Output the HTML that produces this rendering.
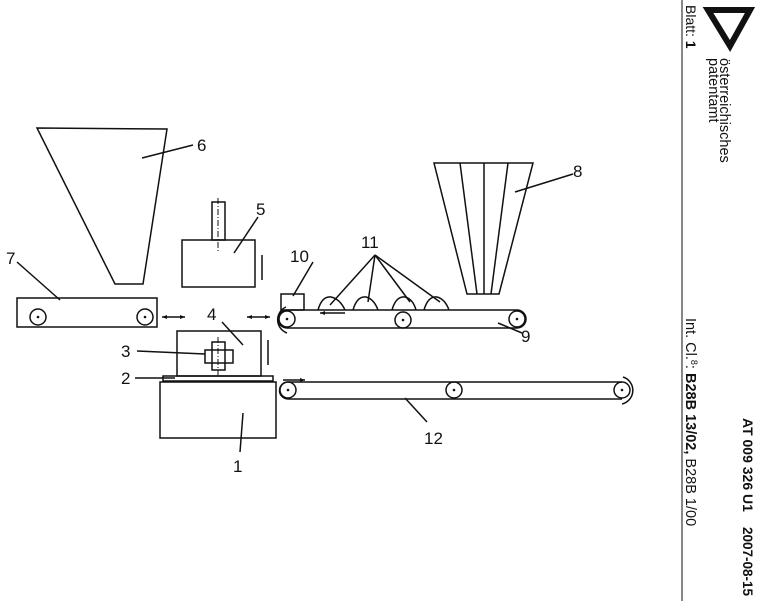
<!DOCTYPE html>
<html><head><meta charset="utf-8"><style>html,body{margin:0;padding:0;background:#fff}svg{display:block}</style></head><body>
<svg width="757" height="601" viewBox="0 0 757 601" xmlns="http://www.w3.org/2000/svg" font-family="Liberation Sans, sans-serif">
<g fill="none" stroke="#111" stroke-width="1.5">
<polygon points="37,128 167,129 143,284 115,284"/>
<line x1="142" y1="158" x2="193" y2="145"/>
<rect x="17" y="298" width="140" height="29"/>
<circle cx="38" cy="317" r="8"/><circle cx="145" cy="317" r="8"/>
<line x1="17" y1="262" x2="60" y2="300"/>
<line x1="162" y1="317" x2="185" y2="317"/><line x1="247" y1="317" x2="270" y2="317"/>
<rect x="182" y="240" width="73" height="47"/>
<rect x="212" y="202" width="13" height="38"/>
<line x1="218" y1="198" x2="218" y2="252" stroke-dasharray="6,2,1,2" stroke-width="1"/>
<line x1="234" y1="253" x2="258" y2="217"/>
<line x1="262" y1="255" x2="262" y2="280"/>
<rect x="177" y="331" width="84" height="45"/>
<line x1="222" y1="322" x2="243" y2="345"/>
<rect x="205" y="350" width="28" height="13"/>
<rect x="212" y="342" width="13" height="28"/>
<line x1="218" y1="337" x2="218" y2="375" stroke-dasharray="6,2,1,2" stroke-width="1"/>
<line x1="137" y1="351" x2="205" y2="354"/>
<line x1="268" y1="340" x2="268" y2="365"/>
<rect x="163" y="376" width="110" height="5"/>
<line x1="135" y1="378" x2="175" y2="378"/>
<rect x="160" y="382" width="116" height="56"/>
<line x1="243" y1="413" x2="240" y2="452"/>
<line x1="287" y1="310" x2="517" y2="310"/><line x1="287" y1="328" x2="517" y2="328"/>
<circle cx="287" cy="319" r="8"/><circle cx="403" cy="320" r="8"/><circle cx="517" cy="319" r="8"/>
<path d="M287,310 A9,9 0 0 0 287,328"/><path d="M517,310 A9,9 0 0 1 517,328"/>
<path d="M286,307 A14,14 0 0 0 287,333"/>
<line x1="320" y1="313" x2="345" y2="313"/>
<line x1="498" y1="323" x2="522" y2="333"/>
<rect x="281" y="294" width="23" height="16"/>
<line x1="313" y1="262" x2="293" y2="296"/>
<path d="M318,310 Q322,296 331,297 Q340,299 345,310"/>
<path d="M353,310 Q357,296 366,297 Q374,299 378,310"/>
<path d="M392,310 Q396,296 405,297 Q413,299 416,310"/>
<path d="M424,310 Q428,296 437,297 Q445,299 449,310"/>
<line x1="375" y1="255" x2="330" y2="305"/><line x1="375" y1="255" x2="368" y2="302"/>
<line x1="375" y1="255" x2="410" y2="302"/><line x1="375" y1="255" x2="440" y2="302"/>
<polygon points="434,163 533,163 499,294 467,294"/>
<line x1="460" y1="163" x2="477" y2="294"/><line x1="484" y1="163" x2="484" y2="294"/><line x1="508" y1="163" x2="491" y2="294"/>
<line x1="515" y1="192" x2="573" y2="174"/>
<line x1="288" y1="382" x2="622" y2="382"/><line x1="288" y1="399" x2="622" y2="399"/>
<circle cx="288" cy="390" r="8"/><circle cx="454" cy="390" r="8"/><circle cx="622" cy="390" r="8"/>
<path d="M288,382 A8.5,8.5 0 0 0 288,399"/>
<path d="M623,377 A14,14 0 0 1 622,404"/>
<line x1="283" y1="380" x2="305" y2="380"/>
<line x1="405" y1="398" x2="427" y2="422"/>
<line x1="682" y1="0" x2="682" y2="601" stroke-width="1"/>
<polygon points="708,10 750,10 730,46" stroke-width="6" stroke-linejoin="miter"/>
</g>
<g fill="#111">
<circle cx="38" cy="317" r="1.3"/><circle cx="145" cy="317" r="1.3"/>
<circle cx="287" cy="319" r="1.3"/><circle cx="403" cy="320" r="1.3"/><circle cx="517" cy="319" r="1.3"/>
<circle cx="288" cy="390" r="1.3"/><circle cx="454" cy="390" r="1.3"/><circle cx="622" cy="390" r="1.3"/>
<polygon points="162,317 167,315 167,319"/><polygon points="185,317 180,315 180,319"/>
<polygon points="247,317 252,315 252,319"/><polygon points="270,317 265,315 265,319"/>
<polygon points="320,313 325,311 325,315"/><polygon points="305,380 300,378 300,382"/>
<g font-size="17">
<text x="197" y="151">6</text><text x="6" y="264">7</text><text x="256" y="215">5</text>
<text x="207" y="320">4</text><text x="121" y="357">3</text><text x="121" y="384">2</text>
<text x="233" y="472">1</text><text x="521" y="342">9</text><text x="290" y="262">10</text>
<text x="361" y="248">11</text><text x="573" y="177">8</text><text x="424" y="444">12</text>
</g>
<g font-size="14.5">
<text transform="translate(720,58) rotate(90)">österreichisches</text>
<text transform="translate(709,58) rotate(90)">patentamt</text>
<text transform="translate(686,5) rotate(90)" font-size="14">Blatt: <tspan font-weight="bold">1</tspan></text>
<text transform="translate(686,318) rotate(90)">Int. Cl.<tspan font-size="9" dy="-5">8</tspan><tspan dy="5">: </tspan><tspan font-weight="bold">B28B 13/02,</tspan> B28B 1/00</text>
<text transform="translate(743,418) rotate(90)" font-weight="bold" font-size="14">AT 009 326 U1</text>
<text transform="translate(743,527) rotate(90)" font-weight="bold" font-size="13.5">2007-08-15</text>
</g>
</g>
</svg>
</body></html>
